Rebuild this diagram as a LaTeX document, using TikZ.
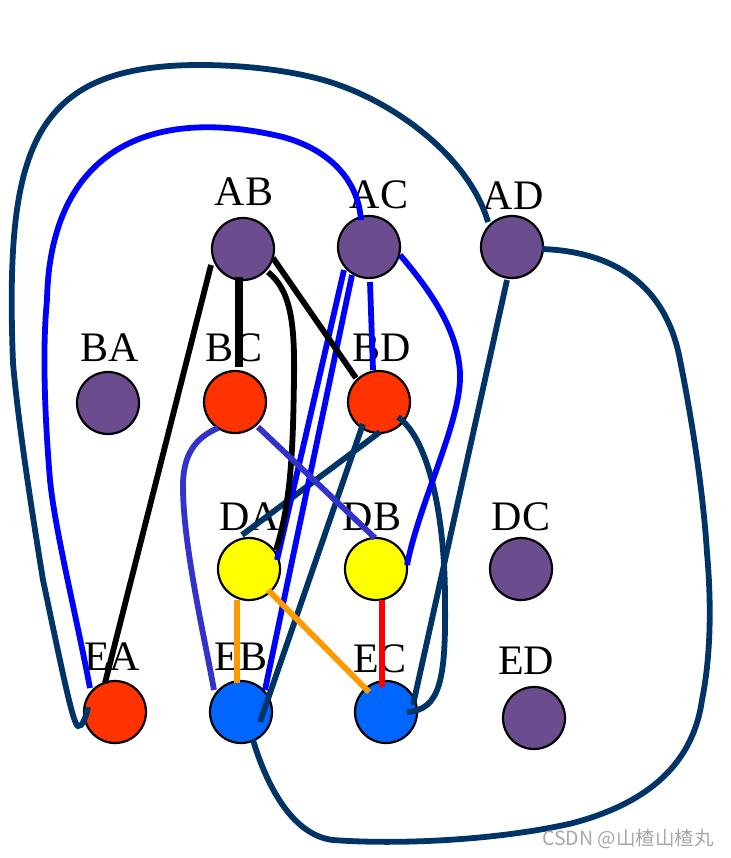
\documentclass[tikz,border=0pt]{standalone}
\usepackage{fontspec}
\setmainfont{Liberation Serif}
\newfontfamily\cjkfont{Noto Sans CJK SC}
\usetikzlibrary{calc}
\definecolor{purp}{HTML}{6B4C8E}
\definecolor{redor}{HTML}{FF3300}
\definecolor{yel}{HTML}{FFFF00}
\definecolor{bluef}{HTML}{0066FF}
\definecolor{navy}{HTML}{003366}
\definecolor{pureblue}{HTML}{0000FF}
\definecolor{indig}{HTML}{3333CC}
\definecolor{orng}{HTML}{FF9900}
\definecolor{pured}{HTML}{FF0000}
\definecolor{wmgray}{HTML}{A8A8A8}
\begin{document}
\begin{tikzpicture}[x=1pt,y=1pt,
  vtx/.style={circle,draw=black,line width=2.2pt,minimum size=62pt,inner sep=0pt},
  lab/.style={font=\fontsize{42}{42}\selectfont,inner sep=0pt},
  edge/.style={line width=5.8pt},
  navyedge/.style={edge,draw=navy},
  blueedge/.style={edge,draw=pureblue},
  blackedge/.style={edge,draw=black}]
\useasboundingbox[fill=white] (0,0) rectangle (730,-858);

% labels
\node[lab] (lAB) at (244,-192) {AB};
\node[lab] (lAC) at (379,-195) {AC};
\node[lab] (lAD) at (513,-196) {AD};
\node[lab] (lBA) at (110,-348) {BA};
\node[lab] (lBC) at (234,-348) {BC};
\node[lab] (lBD) at (382,-348) {BD};
\node[lab] (lDA) at (250,-517) {DA};
\node[lab] (lDB) at (372,-517) {DB};
\node[lab] (lDC) at (521,-517) {DC};
\node[lab] (lEA) at (112,-657) {EA};
\node[lab] (lEB) at (241,-657) {EB};
\node[lab] (lEC) at (380,-659) {EC};
\node[lab] (lED) at (526,-661) {ED};

% vertices
\node[vtx,fill=purp] (AB) at (243,-249) {};
\node[vtx,fill=purp] (AC) at (369,-247) {};
\node[vtx,fill=purp] (AD) at (512,-247) {};
\node[vtx,fill=purp] (BA) at (108,-403) {};
\node[vtx,fill=redor] (BC) at (235,-402) {};
\node[vtx,fill=redor] (BD) at (379,-402) {};
\node[vtx,fill=yel] (DA) at (249,-569) {};
\node[vtx,fill=yel] (DB) at (376,-569) {};
\node[vtx,fill=purp] (DC) at (521,-569) {};
\node[vtx,fill=redor] (EA) at (115,-712) {};
\node[vtx,fill=bluef] (EB) at (241,-712) {};
\node[vtx,fill=bluef] (EC) at (386,-712) {};
\node[vtx,fill=purp] (ED) at (534,-718) {};

% navy edges
\draw[navyedge] ($(EA)+(-27,5)$) .. controls (86,-718) and (82,-727) .. (78,-726)
  .. controls (73,-725) and (62,-670) .. (43,-580)
  .. controls (30,-500) and (18,-420) .. (13,-363)
  .. controls (5,-150) and (30,-65) .. (200,-65)
  .. controls (250,-65) and (300,-72) .. (333,-83)
  .. controls (400,-105) and (470,-160) .. ($(AD)+(-24,25)$);
\draw[navyedge] ($(AD)+(30,-2)$) .. controls (625,-252) and (668,-295) .. (680,-360)
  .. controls (692,-420) and (703,-490) .. (707,-553)
  .. controls (712,-610) and (710,-660) .. (702,-700)
  .. controls (692,-770) and (640,-805) .. (573,-823)
  .. controls (500,-840) and (400,-845) .. (333,-840)
  .. controls (290,-835) and (265,-780) .. ($(EB)+(12,-28)$);
\draw[navyedge] ($(AD)+(-5,-33)$) -- ($(EC)+(27,7)$);
\draw[navyedge] ($(BD)+(19,-15)$) .. controls (430,-440) and (445,-520) .. (445,-600)
  .. controls (446,-680) and (440,-710) .. ($(EC)+(21,0)$);
\draw[navyedge] ($(BD)+(-16,-22)$) -- ($(EB)+(19,-10)$);
\draw[navyedge] ($(BD)+(1,-30)$) -- ($(DA)+(-7,34)$);

% blue edges
\draw[blueedge] ($(EA)+(-25,24)$) .. controls (75,-610) and (55,-530) .. (50,-480)
  .. controls (45,-420) and (42,-350) .. (47,-300)
  .. controls (50,-150) and (150,-105) .. (283,-137)
  .. controls (330,-150) and (358,-180) .. ($(AC)+(-8,27)$);
\draw[blueedge] ($(AC)+(-25,-23)$) -- ($(DA)+(28,9)$);
\draw[blueedge] ($(AC)+(-17,-28)$) -- ($(EB)+(24,22)$);
\draw[blueedge] ($(AC)+(1,-35)$) -- ($(BD)+(-6,32)$);
\draw[blueedge] ($(AC)+(31,-8)$) .. controls (430,-290) and (458,-330) .. (460,-373)
  .. controls (462,-420) and (420,-500) .. ($(DB)+(31,4)$);

% black edges
\draw[blackedge] ($(AB)+(-32,-16)$) -- ($(EA)+(-10,29)$);
\draw[blackedge,line width=7.5pt] ($(AB)+(-4,-28)$) -- ($(BC)+(4,35)$);
\draw[blackedge] ($(AB)+(25,-23)$) .. controls (290,-290) and (295,-320) .. (294,-380)
  .. controls (293,-440) and (292,-500) .. ($(DA)+(27,19)$);
\draw[blackedge] ($(AB)+(30,-9)$) -- ($(BD)+(-23,24)$);

% indigo edges
\draw[edge,draw=indig] ($(BC)+(-17,-26)$) .. controls (195,-438) and (182,-455) .. (183,-490)
  .. controls (184,-550) and (205,-640) .. ($(EB)+(-27,22)$);
\draw[edge,draw=indig] ($(BC)+(23,-25)$) -- ($(DB)+(-1,31)$);

% orange and red edges
\draw[edge,draw=orng] ($(DA)+(-12,-31)$) -- ($(EB)+(-4,29)$);
\draw[edge,draw=orng] ($(DA)+(19,-21)$) -- ($(EC)+(-17,20)$);
\draw[edge,draw=pured] ($(DB)+(6,-31)$) -- ($(EC)+(-4,25)$);

% watermark
\node[font=\cjkfont\fontsize{19.5}{19.5}\selectfont,text=wmgray,inner sep=0pt] (wm) at (628,-839) {CSDN @山楂山楂丸};
\end{tikzpicture}
\end{document}
